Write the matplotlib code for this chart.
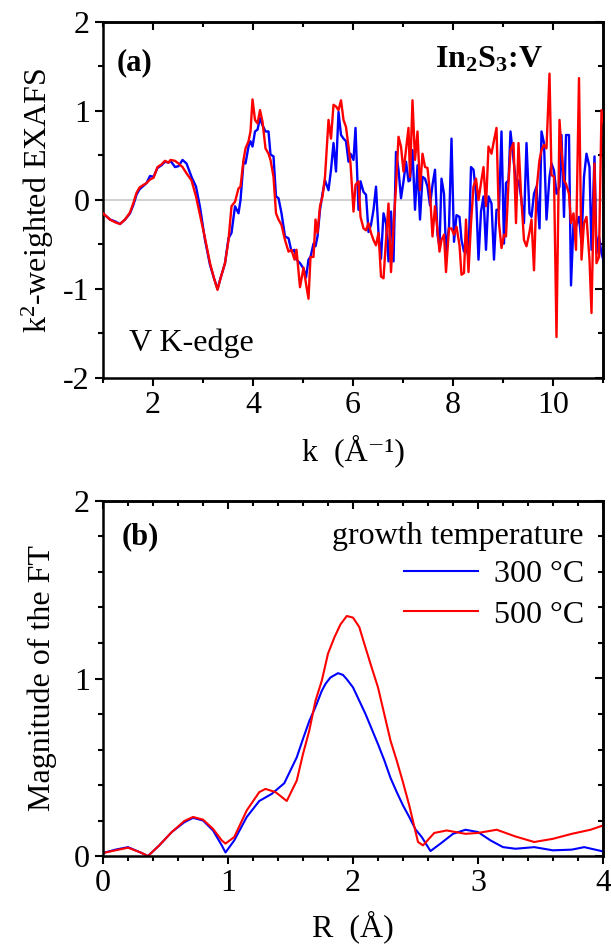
import numpy as np
import matplotlib
matplotlib.use("Agg")
import matplotlib.pyplot as plt
from matplotlib.ticker import MultipleLocator

plt.rcParams["font.family"] = ["Liberation Serif", "DejaVu Serif"]
plt.rcParams["mathtext.fontset"] = "custom"
plt.rcParams["mathtext.rm"] = "Liberation Serif"
plt.rcParams["mathtext.it"] = "Liberation Serif:italic"
plt.rcParams["mathtext.bf"] = "Liberation Serif:bold"
plt.rcParams["axes.unicode_minus"] = False

# (a) k^2-weighted EXAFS, V K-edge
k = [1.00, 1.14, 1.24, 1.34, 1.44, 1.54, 1.61, 1.67, 1.73, 1.81, 1.87, 1.94, 2.01,
     2.09, 2.17, 2.24, 2.31, 2.35, 2.44, 2.51, 2.59, 2.67, 2.77, 2.86, 2.94, 3.04,
     3.14, 3.22, 3.29, 3.35, 3.44, 3.51, 3.57, 3.64, 3.71, 3.75, 3.81, 3.85, 3.91,
     3.95, 3.99, 4.04, 4.09, 4.14, 4.19, 4.25, 4.31, 4.35, 4.41, 4.46, 4.51, 4.57,
     4.64, 4.71, 4.77, 4.83, 4.87, 4.94, 5.01, 5.06, 5.11, 5.15, 5.21, 5.25, 5.29,
     5.34, 5.39, 5.44, 5.51, 5.56, 5.61, 5.66, 5.71, 5.76, 5.81, 5.86, 5.91, 5.95,
     6.01, 6.05, 6.11, 6.15, 6.21, 6.26, 6.31, 6.36, 6.41, 6.46, 6.51, 6.56, 6.61,
     6.66, 6.71, 6.76, 6.81, 6.86, 6.91, 6.96, 7.01, 7.06, 7.11, 7.14, 7.19, 7.24,
     7.29, 7.34, 7.39, 7.44, 7.49, 7.54, 7.59, 7.64, 7.69, 7.73, 7.77, 7.82, 7.86,
     7.92, 7.97, 8.02, 8.07, 8.13, 8.17, 8.22, 8.26, 8.31, 8.36, 8.41, 8.46, 8.51,
     8.56, 8.61, 8.66, 8.71, 8.77, 8.82, 8.87, 8.92, 8.97, 9.02, 9.06, 9.11, 9.15,
     9.21, 9.26, 9.31, 9.36, 9.42, 9.47, 9.53, 9.57, 9.62, 9.67, 9.73, 9.77, 9.82,
     9.87, 9.93, 9.97, 10.02, 10.07, 10.13, 10.17, 10.22, 10.26, 10.32, 10.36,
     10.41, 10.46, 10.52, 10.57, 10.62, 10.67, 10.73, 10.77, 10.83, 10.87, 10.92,
     10.97, 11.02]

chi_300 = [-0.15, -0.22, -0.24, -0.27, -0.22, -0.15, -0.05, 0.06, 0.12, 0.16, 0.19, 0.27, 0.26,
           0.36, 0.39, 0.43, 0.42, 0.44, 0.37, 0.38, 0.45, 0.41, 0.26, 0.15, -0.08, -0.45,
           -0.73, -0.88, -1.00, -0.88, -0.71, -0.43, -0.37, -0.07, -0.15, 0.00, 0.43, 0.41, 0.60,
           0.66, 0.60, 0.77, 0.79, 0.92, 0.84, 0.77, 0.77, 0.51, 0.49, 0.04, 0.02, -0.15,
           -0.41, -0.43, -0.58, -0.56, -0.67, -0.71, -0.77, -0.87, -0.67, -0.64, -0.49, -0.52, -0.41,
           -0.11, 0.07, 0.22, 0.11, 0.34, 0.64, 0.32, 0.99, 0.73, 0.69, 0.66, 0.43, 0.52,
           0.45, 0.81, -0.11, 0.21, 0.09, 0.06, -0.36, -0.28, -0.11, 0.15, -0.37, -0.66, -0.15,
           -0.26, -0.69, -0.13, -0.69, 0.54, 0.34, 0.02, 0.21, 0.43, 0.21, 0.22, 0.56, -0.11,
           0.39, -0.22, 0.26, 0.24, 0.15, -0.06, 0.17, 0.34, -0.39, -0.52, 0.24, 0.07, -0.58,
           -0.30, 0.69, -0.47, -0.17, -0.19, -0.45, -0.58, -0.52, -0.64, 0.37, 0.34, 0.07, -0.67,
           -0.13, 0.04, -0.56, 0.04, -0.04, -0.67, -0.11, -0.11, 0.77, -0.49, 0.19, 0.22, 0.77,
           0.45, 0.19, 0.22, 0.04, -0.26, 0.64, -0.15, -0.19, 0.07, 0.15, -0.32, 0.77, 0.64,
           -0.22, 0.26, 0.41, 0.33, 0.07, 0.15, 0.73, -0.19, 0.73, 0.73, -0.96,
           -0.26, -0.30, -0.19, -0.49, 0.26, 0.52, 0.37, -0.56, 0.49, -0.60, -0.41,
           -0.60, -0.70]

chi_500 = [-0.15, -0.22, -0.25, -0.27, -0.22, -0.14, -0.03, 0.08, 0.14, 0.17, 0.19, 0.23, 0.25,
           0.37, 0.40, 0.44, 0.42, 0.45, 0.44, 0.41, 0.37, 0.30, 0.22, 0.04, -0.17, -0.43,
           -0.71, -0.88, -1.01, -0.88, -0.71, -0.45, -0.07, -0.02, 0.13, 0.15, 0.45, 0.58, 0.66,
           0.77, 1.13, 0.90, 0.86, 1.01, 0.88, 0.58, 0.52, 0.45, 0.26, -0.15, -0.22, -0.28,
           -0.45, -0.58, -0.56, -0.67, -0.56, -0.98, -0.76, -0.94, -1.11, -0.64, -0.64, -0.22, -0.37,
           -0.07, 0.04, 0.26, 0.90, 0.69, 1.07, 1.05, 1.01, 1.12, 0.90, 0.82, 0.60, 0.41,
           -0.13, 0.17, 0.21, -0.19, -0.32, -0.34, -0.26, -0.37, -0.45, -0.51, -0.37, -0.86, -0.88,
           -0.45, -0.04, -0.81, -0.30, 0.15, 0.71, 0.60, 0.32, 0.56, 0.81, 0.26, 1.12, 0.45,
           0.77, 0.11, 0.52, 0.37, 0.36, 0.07, -0.41, -0.07, -0.34, -0.58, -0.45, -0.39, -0.81,
           -0.32, -0.32, -0.39, -0.30, -0.51, -0.84, -0.82, -0.22, -0.81, -0.26, 0.15, 0.24, 0.00,
           0.19, 0.37, -0.07, 0.60, 0.52, 0.67, 0.81, -0.26, -0.54, -0.39, -0.41, 0.19, 0.56,
           0.64, -0.26, 0.64, 0.07, -0.45, -0.52, -0.36, -0.22, -0.79, 0.11, 0.45, 0.56, 0.62,
           0.58, 1.42, 0.28, 0.26, -1.54, 0.90, 0.56, 0.22, 0.18, 0.07, -0.26,
           -0.15, -0.56, 1.37, -0.67, -0.26, -0.19, -0.67, -1.27, 0.41, -0.71, -0.64,
           1.01, 0.86]

# (b) magnitude of the Fourier transform
r_300 = [0.0, 0.1, 0.2, 0.3, 0.36, 0.45, 0.55, 0.65, 0.72, 0.8, 0.88, 0.95, 0.98, 1.05,
         1.15, 1.25, 1.35, 1.45, 1.55, 1.6, 1.65, 1.7, 1.75, 1.78, 1.82, 1.88, 1.92, 1.95,
         2.0, 2.05, 2.1, 2.15, 2.2, 2.25, 2.3, 2.35, 2.4, 2.45, 2.5, 2.55, 2.62, 2.7, 2.8,
         2.9, 3.0, 3.1, 3.2, 3.3, 3.45, 3.6, 3.75, 3.85, 4.0]
ft_300 = [0.017, 0.036, 0.05, 0.02, 0.0, 0.06, 0.135, 0.19, 0.215, 0.20, 0.144, 0.06, 0.02, 0.088,
          0.22, 0.31, 0.35, 0.41, 0.556, 0.66, 0.76, 0.84, 0.93, 0.97, 1.006, 1.03, 1.02, 0.996,
          0.95, 0.875, 0.80, 0.715, 0.63, 0.54, 0.44, 0.36, 0.285, 0.22, 0.15, 0.107, 0.028,
          0.07, 0.125, 0.148, 0.135, 0.088, 0.05, 0.041, 0.05, 0.032, 0.036, 0.05, 0.026]

r_500 = [0.0, 0.1, 0.2, 0.3, 0.36, 0.45, 0.55, 0.65, 0.72, 0.8, 0.88, 0.95, 0.98, 1.05,
         1.15, 1.25, 1.3, 1.38, 1.47, 1.55, 1.6, 1.65, 1.7, 1.75, 1.8, 1.85, 1.9, 1.95,
         2.0, 2.05, 2.08, 2.15, 2.2, 2.25, 2.3, 2.35, 2.4, 2.45, 2.52, 2.56, 2.65, 2.75,
         2.9, 3.0, 3.15, 3.3, 3.45, 3.6, 3.75, 3.9, 4.0]
ft_500 = [0.017, 0.032, 0.047, 0.02, 0.0, 0.06, 0.135, 0.197, 0.22, 0.205, 0.153, 0.088, 0.07, 0.107,
          0.257, 0.36, 0.378, 0.36, 0.31, 0.425, 0.575, 0.706, 0.875, 0.987, 1.14, 1.23, 1.305,
          1.352, 1.343, 1.29, 1.22, 1.06, 0.95, 0.80, 0.65, 0.537, 0.415, 0.285, 0.079, 0.06,
          0.13, 0.144, 0.125, 0.13, 0.148, 0.11, 0.079, 0.097, 0.125, 0.148, 0.172]

labels = ["300 \u00b0C", "500 \u00b0C"]
BLUE = "#0000ff"
RED = "#ff0000"
FS = 23


def style_axes(ax, xmaj, xmin, ymaj, ymin):
    for sp in ax.spines.values():
        sp.set_linewidth(1.8)
    ax.xaxis.set_major_locator(MultipleLocator(xmaj))
    ax.xaxis.set_minor_locator(MultipleLocator(xmin))
    ax.yaxis.set_major_locator(MultipleLocator(ymaj))
    ax.yaxis.set_minor_locator(MultipleLocator(ymin))
    ax.tick_params(which="both", direction="out", width=1.5, labelsize=FS,
                   top=False, right=False)
    ax.tick_params(which="major", length=6)
    ax.tick_params(which="minor", length=3.5)
    # mirrored ticks pointing inwards on top and right
    top = ax.secondary_xaxis("top")
    top.xaxis.set_major_locator(MultipleLocator(xmaj))
    top.xaxis.set_minor_locator(MultipleLocator(xmin))
    top.tick_params(which="both", direction="in", width=1.5, labeltop=False)
    top.tick_params(which="major", length=6)
    top.tick_params(which="minor", length=3.5)
    top.spines["top"].set_linewidth(1.8)
    right = ax.secondary_yaxis("right")
    right.yaxis.set_major_locator(MultipleLocator(ymaj))
    right.yaxis.set_minor_locator(MultipleLocator(ymin))
    right.tick_params(which="both", direction="in", width=1.5, labelright=False)
    right.tick_params(which="major", length=6)
    right.tick_params(which="minor", length=3.5)
    right.spines["right"].set_linewidth(1.8)


fig = plt.figure(figsize=(6.11, 9.44), dpi=100)
ax1 = fig.add_axes([0.1686, 0.5996, 0.8183, 0.3771])
ax2 = fig.add_axes([0.1686, 0.0932, 0.8183, 0.3761])

# panel (a)
ax1.axhline(0, color="#c8c8c8", lw=1.2, zorder=1)
ax1.plot(k, chi_300, color=BLUE, lw=1.7, zorder=2)
ax1.plot(k, chi_500, color=RED, lw=1.7, zorder=3)
ax1.set_xlim(1, 11)
ax1.set_ylim(-2, 2)
style_axes(ax1, 2, 1, 1, 0.5)
ax1.set_xlabel("k  (\u00c5\u207b\u00b9)", fontsize=FS, labelpad=10)
ax1.set_ylabel("k$^2$-weighted EXAFS", fontsize=FS, labelpad=5)
ax1.text(0.028, 0.925, "(a)", transform=ax1.transAxes, fontsize=22,
         fontweight="bold", va="top", ha="left")
ax1.text(0.88, 0.935, r"In$_\mathbf{2}$S$_\mathbf{3}$:V", transform=ax1.transAxes,
         fontsize=FS, fontweight="bold", va="top", ha="right")
ax1.text(0.052, 0.075, "V K-edge", transform=ax1.transAxes, fontsize=FS,
         va="baseline", ha="left")

# panel (b)
ax2.plot(r_300, ft_300, color=BLUE, lw=1.5, label=labels[0])
ax2.plot(r_500, ft_500, color=RED, lw=1.5, label=labels[1])
ax2.set_xlim(0, 4)
ax2.set_ylim(0, 2)
style_axes(ax2, 1, 0.2, 1, 0.2)
ax2.set_xlabel("R  (\u00c5)", fontsize=FS, labelpad=9)
ax2.set_ylabel("Magnitude of the FT", fontsize=FS, labelpad=12)
ax2.text(0.038, 0.94, "(b)", transform=ax2.transAxes, fontsize=22,
         fontweight="bold", va="top", ha="left")
leg = ax2.legend(loc="upper right", bbox_to_anchor=(0.962, 0.94), frameon=False,
                 fontsize=FS, title="growth temperature", title_fontsize=FS,
                 alignment="right", handlelength=2.3, handletextpad=0.5,
                 labelspacing=0.35, borderaxespad=0, borderpad=0)
leg._legend_box.sep = 6

fig.savefig("out.png", dpi=100)
